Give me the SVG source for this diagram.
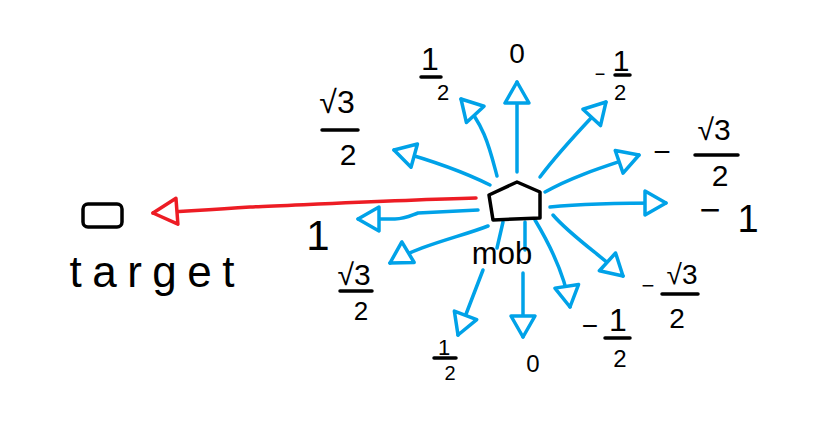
<svg xmlns="http://www.w3.org/2000/svg" width="830" height="444" viewBox="0 0 830 444">
<style>
.b{fill:none;stroke:#00A2E8;stroke-width:3.5;stroke-linecap:round;stroke-linejoin:round}
.r{fill:none;stroke:#ED1C24;stroke-width:3.5;stroke-linecap:round;stroke-linejoin:round}
.k{fill:none;stroke:#000;stroke-width:3.5;stroke-linecap:round;stroke-linejoin:round}
text{font-family:"Liberation Sans",Arial,sans-serif;fill:#000;text-anchor:middle}
</style>
<defs>
<marker id="hb" viewBox="-26 -15 30 30" refX="0" refY="0" markerWidth="30" markerHeight="30" markerUnits="userSpaceOnUse" orient="auto">
<path d="M0,0 L-21,-12 L-21,12 Z" fill="#fff" stroke="#00A2E8" stroke-width="3.5" stroke-linejoin="round"/>
</marker>
<marker id="hr" viewBox="-30 -16 34 32" refX="0" refY="0" markerWidth="34" markerHeight="32" markerUnits="userSpaceOnUse" orient="auto">
<path d="M0,0 L-24,-13 L-24,13 Z" fill="#fff" stroke="#ED1C24" stroke-width="3.5" stroke-linejoin="round"/>
</marker>
</defs>
<rect width="830" height="444" fill="#fff"/>
<g id="connectors">
<path class="r" d="M476,198 C400,200 300,205 250,207 C210,210 180,211 153,213" marker-end="url(#hr)"/>
<path class="b" d="M517,172 L517,82" marker-end="url(#hb)"/>
<path class="b" d="M497,176 C490,150 485,125 461,99" marker-end="url(#hb)"/>
<path class="b" d="M490,185 C460,170 430,160 394,150" marker-end="url(#hb)"/>
<path class="b" d="M478,210 L418,213 C410,216 405,219 395,219 L358,219" marker-end="url(#hb)"/>
<path class="b" d="M488,226 C460,237 420,245 390,263" marker-end="url(#hb)"/>
<path class="b" d="M503,222 L497,248"/>
<path class="b" d="M483,270 L458,335" marker-end="url(#hb)"/>
<path class="b" d="M525,222 L525,250"/>
<path class="b" d="M523,273 L523,337" marker-end="url(#hb)"/>
<path class="b" d="M535,220 C550,245 565,275 570,307" marker-end="url(#hb)"/>
<path class="b" d="M553,215 C570,235 600,255 623,276" marker-end="url(#hb)"/>
<path class="b" d="M550,207 C580,204 620,203 666,203" marker-end="url(#hb)"/>
<path class="b" d="M545,192 C575,175 610,165 639,155" marker-end="url(#hb)"/>
<path class="b" d="M540,177 C560,150 580,130 606,102" marker-end="url(#hb)"/>
</g>
<g id="mob">
<polygon class="k" points="489,195 517,182 540,192 540,218 493,220" fill="#fff"/>
<text x="502" y="264" font-size="31">mob</text>
</g>
<g id="target">
<rect class="k" x="83" y="204" width="39" height="23" rx="5"/>
<text x="152" y="287" font-size="44" textLength="165" lengthAdjust="spacing">target</text>
</g>
<g id="labels">
<g id="l-up"><text x="517" y="63" font-size="28">0</text></g>
<g id="l-up-left"><text x="430" y="70" font-size="32">1</text><line class="k" x1="421" y1="77" x2="441" y2="77"/><text x="443" y="100" font-size="22">2</text></g>
<g id="l-left-up"><text x="337" y="113" font-size="32">√3</text><line class="k" x1="322" y1="130" x2="358" y2="130"/><text x="348" y="165" font-size="30">2</text></g>
<g id="l-left"><text x="318" y="250" font-size="42">1</text></g>
<g id="l-left-down"><text x="354" y="285" font-size="30">√3</text><line class="k" x1="340" y1="291" x2="372" y2="291"/><text x="361" y="320" font-size="26">2</text></g>
<g id="l-down-left"><text x="444" y="355" font-size="22">1</text><line class="k" x1="434" y1="358" x2="456" y2="358"/><text x="450" y="380" font-size="20">2</text></g>
<g id="l-down"><text x="533" y="372" font-size="24">0</text></g>
<g id="l-down-right"><text x="590" y="335" font-size="28">−</text><text x="618" y="331" font-size="32">1</text><line class="k" x1="605" y1="338" x2="630" y2="338"/><text x="620" y="367" font-size="24">2</text></g>
<g id="l-right-down"><text x="648" y="293" font-size="22">−</text><text x="682" y="284" font-size="28">√3</text><line class="k" x1="662" y1="294" x2="698" y2="294"/><text x="677" y="328" font-size="28">2</text></g>
<g id="l-right"><text x="710" y="222" font-size="36">−</text><text x="748" y="232" font-size="38">1</text></g>
<g id="l-right-up"><text x="662" y="162" font-size="30">−</text><text x="714" y="140" font-size="30">√3</text><line class="k" x1="695" y1="155" x2="738" y2="155"/><text x="720" y="186" font-size="30">2</text></g>
<g id="l-up-right"><text x="600" y="80" font-size="18">−</text><text x="621" y="71" font-size="30">1</text><line class="k" x1="615" y1="75" x2="630" y2="75"/><text x="620" y="100" font-size="22">2</text></g>
</g>
</svg>
